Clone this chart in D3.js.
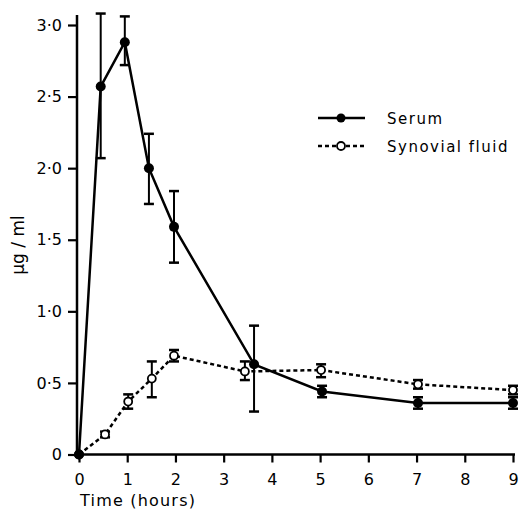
<!DOCTYPE html>
<html><head><meta charset="utf-8">
<script src="https://cdn.jsdelivr.net/npm/d3@7"></script>
<style>body{margin:0;background:#fff}</style>
</head><body>
<svg id="c" width="523" height="510"></svg>
<script>
const serumTime = [0, 0.45, 0.95, 1.45, 1.97, 3.63, 5.04, 7.03, 9];
const serumVal  = [0, 2.57, 2.88, 2.00, 1.59, 0.63, 0.44, 0.36, 0.36];
const serumHi   = [0, 3.08, 3.06, 2.24, 1.84, 0.90, 0.48, 0.40, 0.40];
const serumLo   = [0, 2.07, 2.72, 1.75, 1.34, 0.30, 0.40, 0.32, 0.32];
const synTime = [0, 0.54, 1.02, 1.51, 1.97, 3.44, 5.02, 7.03, 9];
const synVal  = [0, 0.14, 0.37, 0.53, 0.69, 0.58, 0.59, 0.49, 0.45];
const synHi   = [0, 0.16, 0.42, 0.65, 0.73, 0.65, 0.63, 0.52, 0.48];
const synLo   = [0, 0.12, 0.32, 0.40, 0.65, 0.52, 0.54, 0.46, 0.42];
const xTicks = [0,1,2,3,4,5,6,7,8,9];
const xTickLabels = ["0","1","2","3","4","5","6","7","8","9"];
const yTicks = [0,0.5,1.0,1.5,2.0,2.5,3.0];
const yTickLabels = ["0","0·5","1·0","1·5","2·0","2·5","3·0"];
const seriesNames = ["Serum","Synovial fluid"];

const svg = d3.select("#c");
const font = "'DejaVu Sans', sans-serif";
const x = d3.scaleLinear().domain([0,9]).range([79,513]);
const y = d3.scaleLinear().domain([0,3]).range([454.5,25]);

// axes
const xAxis = d3.axisBottom(x).tickValues(xTicks).tickSize(8).tickFormat((d,i)=>xTickLabels[i]);
const gx = svg.append("g").attr("transform","translate(0,"+y(0)+")").call(xAxis);
gx.select(".domain").remove();
gx.append("line").attr("x1",77).attr("x2",515).attr("y1",0).attr("y2",0).attr("stroke","#000").attr("stroke-width",2.5);
gx.selectAll(".tick line").attr("stroke","#000").attr("stroke-width",2.2);
gx.selectAll(".tick text").attr("font-family",font).attr("font-size",16).attr("fill","#000").attr("dy","0.95em").attr("y",15);

const yAxis = d3.axisLeft(y).tickValues(yTicks).tickSize(9).tickFormat((d,i)=>yTickLabels[i]);
const gy = svg.append("g").attr("transform","translate(77,0)").call(yAxis);
gy.select(".domain").remove();
gy.append("line").attr("x1",0).attr("x2",0).attr("y1",y(3.07)).attr("y2",y(0)+1).attr("stroke","#000").attr("stroke-width",2.5);
gy.selectAll(".tick line").attr("stroke","#000").attr("stroke-width",2.2);
gy.selectAll(".tick text").attr("font-family",font).attr("font-size",16).attr("fill","#000").attr("x",-15);

svg.append("text").attr("x",80).attr("y",506).attr("font-family",font).attr("font-size",16).attr("letter-spacing",1.2).text("Time (hours)");
svg.append("text").attr("transform","translate(24,245) rotate(-90)").attr("text-anchor","middle")
  .attr("font-family",font).attr("font-size",17).text("μg / ml");

function errbars(t, hi, lo) {
  const g = svg.append("g").attr("stroke","#000").attr("stroke-width",2);
  t.forEach((tv,i)=>{
    if (hi[i]===lo[i]) return;
    g.append("line").attr("x1",x(tv)).attr("x2",x(tv)).attr("y1",y(hi[i])).attr("y2",y(lo[i]));
    g.append("line").attr("x1",x(tv)-5).attr("x2",x(tv)+5).attr("y1",y(hi[i])).attr("y2",y(hi[i])).attr("stroke-width",2.5);
    g.append("line").attr("x1",x(tv)-5).attr("x2",x(tv)+5).attr("y1",y(lo[i])).attr("y2",y(lo[i])).attr("stroke-width",2.5);
  });
}
errbars(synTime, synHi, synLo);
errbars(serumTime, serumHi, serumLo);

const line = d3.line().x(d=>x(d[0])).y(d=>y(d[1]));
svg.append("path").datum(synTime.map((t,i)=>[t,synVal[i]])).attr("d",line)
  .attr("fill","none").attr("stroke","#000").attr("stroke-width",2.5).attr("stroke-dasharray","4,3");
svg.append("path").datum(serumTime.map((t,i)=>[t,serumVal[i]])).attr("d",line)
  .attr("fill","none").attr("stroke","#000").attr("stroke-width",2.5);

svg.append("g").selectAll("circle").data(synTime.map((t,i)=>[t,synVal[i]])).join("circle")
  .attr("cx",d=>x(d[0])).attr("cy",d=>y(d[1])).attr("r",4).attr("fill","#fff").attr("stroke","#000").attr("stroke-width",1.8);
svg.append("g").selectAll("circle").data(serumTime.map((t,i)=>[t,serumVal[i]])).join("circle")
  .attr("cx",d=>x(d[0])).attr("cy",d=>y(d[1])).attr("r",5).attr("fill","#000");

// legend
const lg = svg.append("g");
lg.append("line").attr("x1",318).attr("x2",365).attr("y1",118).attr("y2",118).attr("stroke","#000").attr("stroke-width",2.5);
lg.append("circle").attr("cx",341).attr("cy",118).attr("r",4.5).attr("fill","#000");
lg.append("line").attr("x1",318).attr("x2",365).attr("y1",146).attr("y2",146).attr("stroke","#000").attr("stroke-width",2.5).attr("stroke-dasharray","4,3");
lg.append("circle").attr("cx",341).attr("cy",146).attr("r",4).attr("fill","#fff").attr("stroke","#000").attr("stroke-width",1.8);
lg.append("text").attr("x",387).attr("y",124).attr("font-family",font).attr("font-size",15).attr("letter-spacing",1.5).text(seriesNames[0]);
lg.append("text").attr("x",387).attr("y",152).attr("font-family",font).attr("font-size",15).attr("letter-spacing",1.5).text(seriesNames[1]);
</script>
</body></html>
